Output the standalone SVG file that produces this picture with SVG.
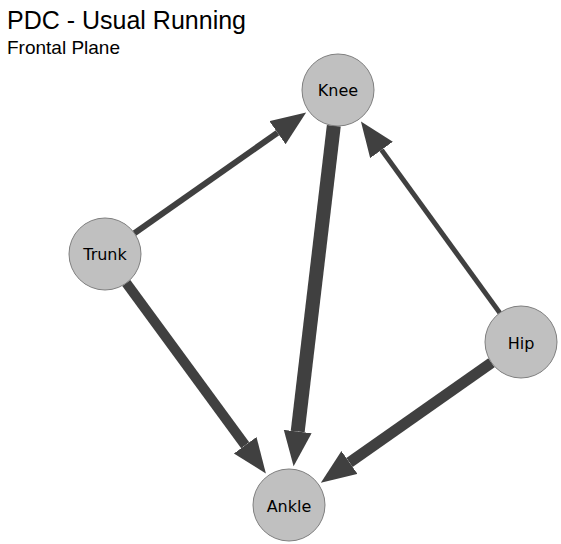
<svg xmlns="http://www.w3.org/2000/svg" width="561" height="544" viewBox="0 0 561 544">
<style>
.title{font-family:"Liberation Sans",Arial,sans-serif;fill:#000}
.node circle{fill:#c0c0c0;stroke:#7f7f7f;stroke-width:1}
.node text{font-family:"DejaVu Sans",Verdana,sans-serif;font-size:16px;fill:#000;text-anchor:middle;dominant-baseline:central}
.edge{stroke:#404040;fill:none;stroke-linecap:butt;marker-end:url(#ah)}
</style>
<defs>
<marker id="ah" markerUnits="userSpaceOnUse" markerWidth="36" markerHeight="30" refX="0" refY="14" orient="auto" viewBox="0 0 36 30">
<path d="M0,0 L35,14 L0,28 z" fill="#404040"/>
</marker>
</defs>
<rect width="561" height="544" fill="#fff"/>
<text class="title" x="7" y="29" font-size="25">PDC - Usual Running</text>
<text class="title" x="7" y="54" font-size="19">Frontal Plane</text>
<g id="edges">
<line class="edge" x1="134.4" y1="233.3" x2="277.5" y2="132.7" stroke-width="6"/>
<line class="edge" x1="333.8" y1="125.8" x2="297.7" y2="431.5" stroke-width="14"/>
<line class="edge" x1="499.8" y1="312.9" x2="381.5" y2="149.9" stroke-width="5"/>
<line class="edge" x1="126.3" y1="283" x2="245.2" y2="445.3" stroke-width="10"/>
<line class="edge" x1="491.5" y1="362.7" x2="349.5" y2="462.5" stroke-width="11"/>
</g>
<g id="knee" class="node"><circle cx="338" cy="90" r="36"/><text x="338" y="90">Knee</text></g>
<g id="trunk" class="node"><circle cx="105" cy="254" r="36"/><text x="105" y="254">Trunk</text></g>
<g id="hip" class="node"><circle cx="521" cy="342" r="36"/><text x="521" y="343">Hip</text></g>
<g id="ankle" class="node"><circle cx="289" cy="505" r="36"/><text x="289" y="506">Ankle</text></g>
</svg>
